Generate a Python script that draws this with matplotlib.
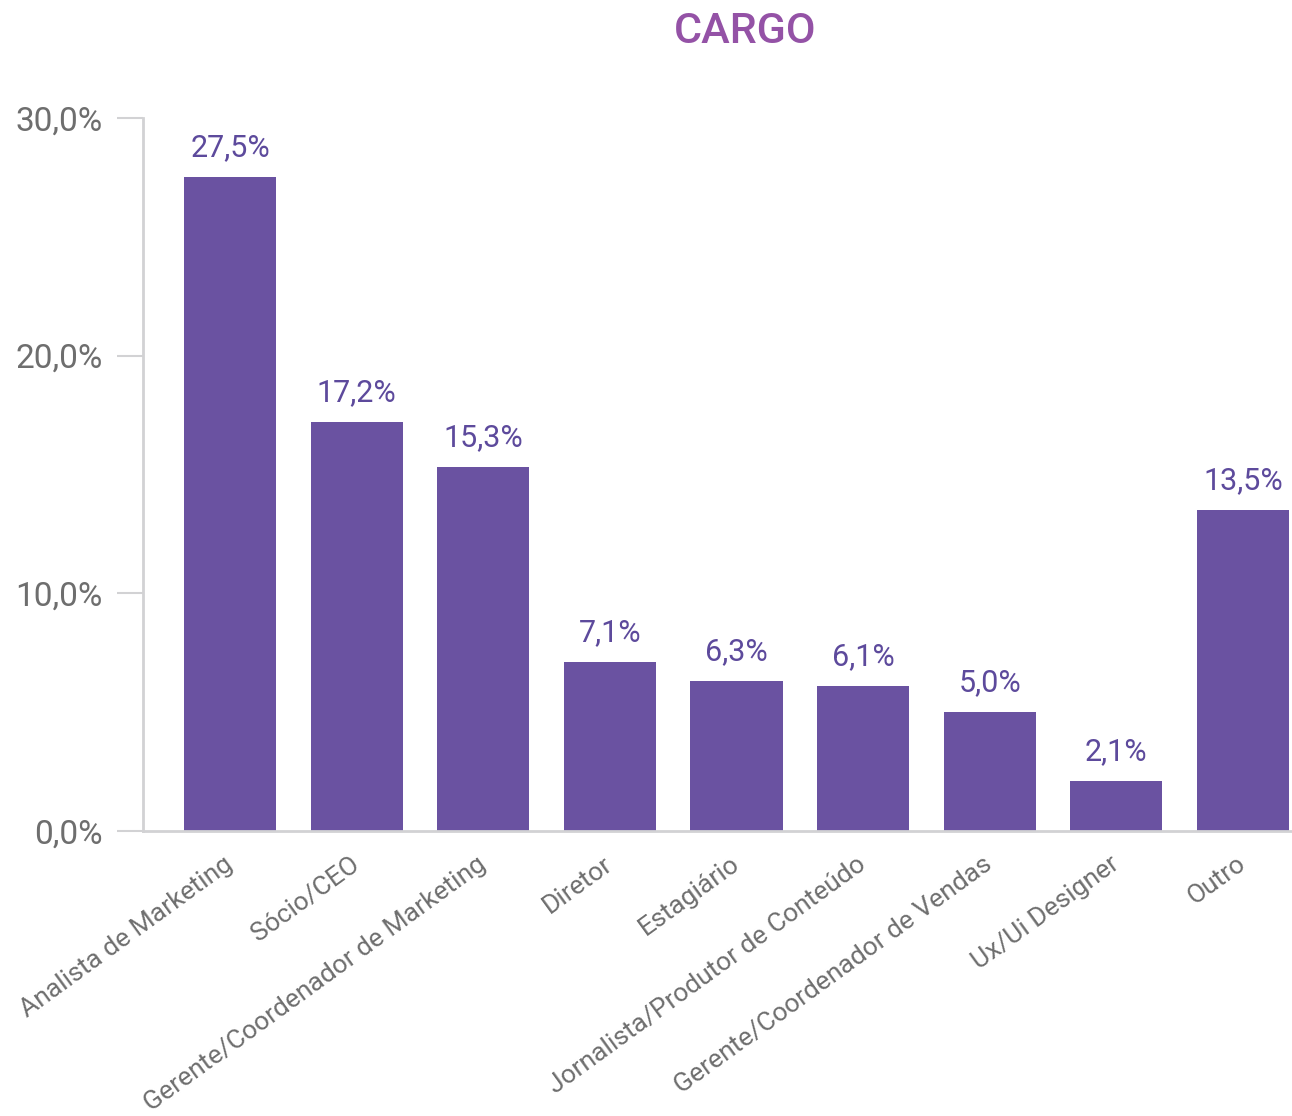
import matplotlib.pyplot as plt
from matplotlib.ticker import FuncFormatter

plt.rcParams['font.family'] = ['Roboto', 'DejaVu Sans']

cargos = ['Analista de Marketing', 'Sócio/CEO', 'Gerente/Coordenador de Marketing',
          'Diretor', 'Estagiário', 'Jornalista/Produtor de Conteúdo',
          'Gerente/Coordenador de Vendas', 'Ux/Ui Designer', 'Outro']
percentuais = [27.5, 17.2, 15.3, 7.1, 6.3, 6.1, 5.0, 2.1, 13.5]
y_ticks = [0, 10, 20, 30]

cor_barra = '#6a52a1'
cor_valor = '#5d4a9c'
cor_cinza = '#6e6e6e'
cor_eixo = '#d2d2d4'


def fmt_pct(v):
    return f'{v:.1f}%'.replace('.', ',')


fig = plt.figure(figsize=(12.92, 11.16), dpi=100)
ax = fig.add_axes([0.1107, 0.2554, 0.8893, 0.6389])

x = range(len(cargos))
bars = ax.bar(x, percentuais, width=0.727, color=cor_barra, zorder=2)

for b, v in zip(bars, percentuais):
    ax.annotate(fmt_pct(v), (b.get_x() + b.get_width() / 2, v),
                xytext=(0, 15), textcoords='offset points',
                ha='center', va='baseline', fontsize=22, color=cor_valor)

ax.set_xlim(-0.687, 8.387)
ax.set_ylim(0, 30)
ax.set_yticks(y_ticks)
ax.yaxis.set_major_formatter(FuncFormatter(lambda v, p: fmt_pct(v)))
ax.tick_params(axis='y', length=19, width=1.5, color=cor_eixo, pad=10,
               labelsize=24, labelcolor=cor_cinza)

ax.set_xticks(list(x))
ax.set_xticklabels(cargos, rotation=36, ha='right', va='center',
                   rotation_mode='anchor', fontsize=19, color=cor_cinza)
ax.tick_params(axis='x', length=0, pad=22)

for s in ['top', 'right']:
    ax.spines[s].set_visible(False)
for s in ['left', 'bottom']:
    ax.spines[s].set_color(cor_eixo)
    ax.spines[s].set_linewidth(2)

fig.text(0.5766, 0.972, 'CARGO', ha='center', va='center', fontsize=31,
         fontweight='medium', color='#9452a6')

fig.savefig('out.png', dpi=100)
